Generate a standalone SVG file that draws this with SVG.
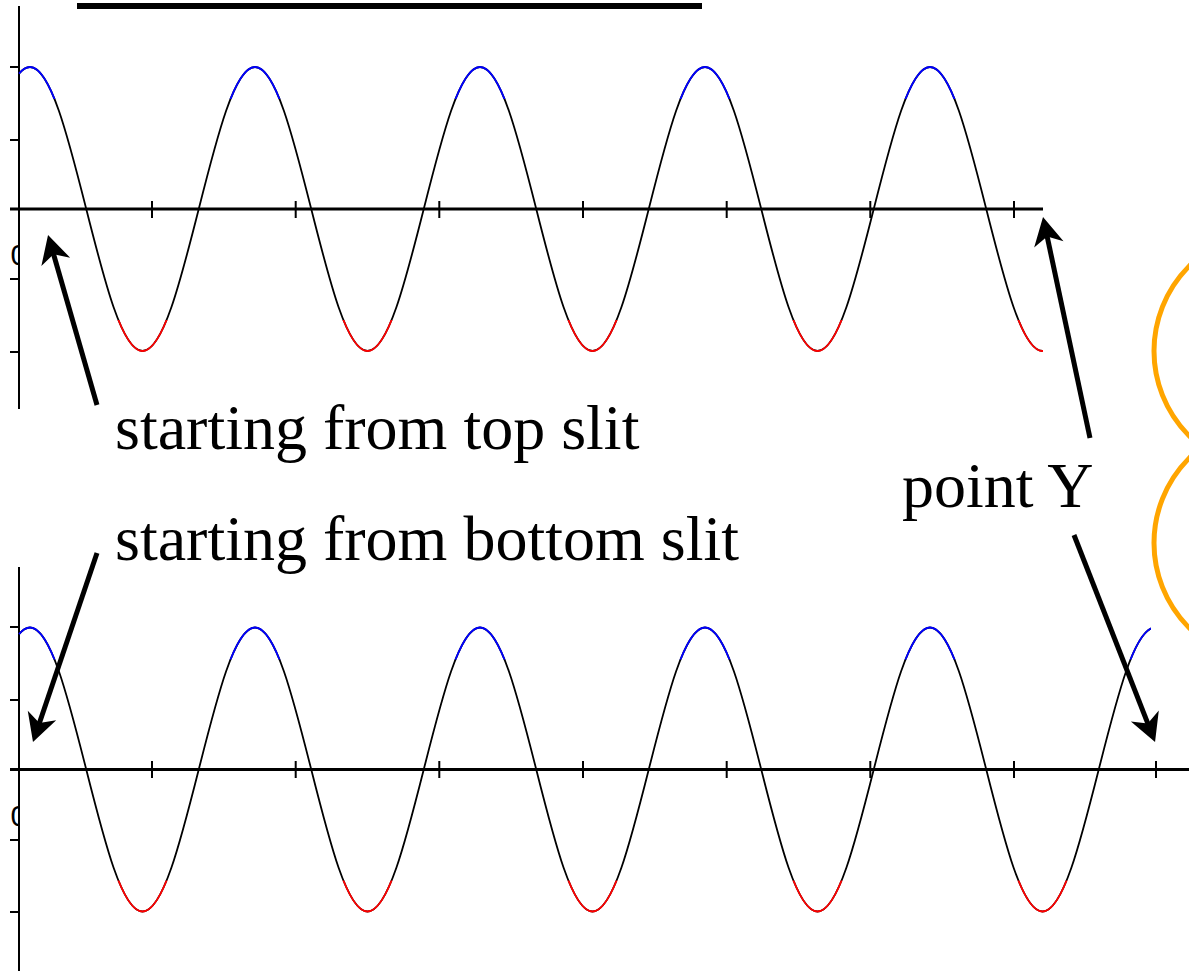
<svg xmlns="http://www.w3.org/2000/svg" width="1189" height="971" viewBox="0 0 1189 971">
<style>
.axis{stroke:#000;stroke-width:2;fill:none}
.haxis{stroke:#000;stroke-width:3;fill:none}
.tick{stroke:#000;stroke-width:2;fill:none}
.wk{stroke:#000;stroke-width:1.8;fill:none}
.wb{stroke:#0000ff;stroke-width:1.8;fill:none}
.wr{stroke:#ff0000;stroke-width:1.8;fill:none}
.lbl{font-family:"Liberation Serif","Times New Roman",serif;font-size:64px;fill:#000}
.arr{stroke:#000;stroke-width:5;fill:none;marker-end:url(#head)}
.ring{stroke:#FFA500;stroke-width:5;fill:none}
.zero{font-family:"Liberation Sans",Arial,sans-serif;font-size:30px;fill:#000}
</style>
<defs>
<marker id="head" markerUnits="userSpaceOnUse" markerWidth="60" markerHeight="60" refX="0" refY="0" orient="auto" overflow="visible">
<path d="M10,0 L-18,-15 L-10,0 L-18,15 Z" fill="#000"/>
</marker>
<path id="wave" d="M19,-135.3 Q24.6,-142 30,-142
C50.36,-142 67.9,-72.7 86.25,0 C104.6,72.7 122.14,142 142.5,142 C162.86,142 180.4,72.7 198.75,0 C217.1,-72.7 234.64,-142 255,-142
C275.36,-142 292.9,-72.7 311.25,0 C329.6,72.7 347.14,142 367.5,142 C387.86,142 405.4,72.7 423.75,0 C442.1,-72.7 459.64,-142 480,-142
C500.36,-142 517.9,-72.7 536.25,0 C554.6,72.7 572.14,142 592.5,142 C612.86,142 630.4,72.7 648.75,0 C667.1,-72.7 684.64,-142 705,-142
C725.36,-142 742.9,-72.7 761.25,0 C779.6,72.7 797.14,142 817.5,142 C837.86,142 855.4,72.7 873.75,0 C892.1,-72.7 909.64,-142 930,-142
C950.36,-142 967.9,-72.7 986.25,0 C1004.6,72.7 1022.14,142 1042.5,142 C1062.86,142 1080.4,72.7 1098.75,0 C1117.1,-72.7 1134.64,-142 1155,-142"/>
<clipPath id="cTopK" clipPathUnits="userSpaceOnUse"><rect x="0" y="-200" width="1043" height="400"/></clipPath>
<clipPath id="cTopB" clipPathUnits="userSpaceOnUse"><rect x="0" y="-200" width="1043" height="90"/></clipPath>
<clipPath id="cTopR" clipPathUnits="userSpaceOnUse"><rect x="0" y="111" width="1043" height="90"/></clipPath>
<clipPath id="cBotK" clipPathUnits="userSpaceOnUse"><rect x="0" y="-200" width="1151" height="400"/></clipPath>
<clipPath id="cBotB" clipPathUnits="userSpaceOnUse"><rect x="0" y="-200" width="1151" height="90"/></clipPath>
<clipPath id="cBotR" clipPathUnits="userSpaceOnUse"><rect x="0" y="111" width="1151" height="90"/></clipPath>
<clipPath id="cZero" clipPathUnits="userSpaceOnUse"><rect x="10" y="-100" width="9" height="200"/></clipPath>
</defs>

<rect id="topbar" x="77" y="3" width="625" height="6" fill="#000"/>

<g id="graph-top">
<line class="axis" x1="19" y1="6" x2="19" y2="409"/>
<path class="tick" d="M10,67H19M10,140H19M10,279H19M10,352H19"/>
<line class="haxis" x1="10" y1="209" x2="1043" y2="209"/>
<path class="tick" d="M152,201V218M295.7,201V218M439.3,201V218M583,201V218M726.7,201V218M870.3,201V218M1014,201V218"/>
<g transform="translate(0,209)">
<text class="zero" x="10.5" y="56" clip-path="url(#cZero)">0</text>
<use href="#wave" class="wk" clip-path="url(#cTopK)"/>
<use href="#wave" class="wb" clip-path="url(#cTopB)"/>
<use href="#wave" class="wr" clip-path="url(#cTopR)"/>
</g>
</g>

<g id="graph-bottom">
<line class="axis" x1="19" y1="567" x2="19" y2="971"/>
<path class="tick" d="M10,627H19M10,700H19M10,840H19M10,912H19"/>
<line class="haxis" x1="10" y1="769.5" x2="1189" y2="769.5"/>
<path class="tick" d="M152,761V778M295.7,761V778M439.3,761V778M583,761V778M726.7,761V778M870.3,761V778M1014,761V778M1156,761V778"/>
<g transform="translate(0,769.5)">
<text class="zero" x="10.5" y="56" clip-path="url(#cZero)">0</text>
<use href="#wave" class="wk" clip-path="url(#cBotK)"/>
<use href="#wave" class="wb" clip-path="url(#cBotB)"/>
<use href="#wave" class="wr" clip-path="url(#cBotR)"/>
</g>
</g>

<g id="rings">
<circle class="ring" cx="1274" cy="351" r="120"/>
<circle class="ring" cx="1274" cy="543" r="120"/>
</g>

<g id="label-top"><text class="lbl" x="115" y="449">starting from top slit</text></g>
<g id="label-bottom"><text class="lbl" x="115" y="560">starting from bottom slit</text></g>
<g id="label-pointY"><text class="lbl" x="902" y="507">point Y</text></g>

<g id="connectors">
<line class="arr" x1="97" y1="405" x2="50.8" y2="244.6"/>
<line class="arr" x1="97" y1="553" x2="36.2" y2="732.5"/>
<line class="arr" x1="1090" y1="438" x2="1045.1" y2="226.8"/>
<line class="arr" x1="1074" y1="535" x2="1151.4" y2="732.7"/>
</g>
</svg>
